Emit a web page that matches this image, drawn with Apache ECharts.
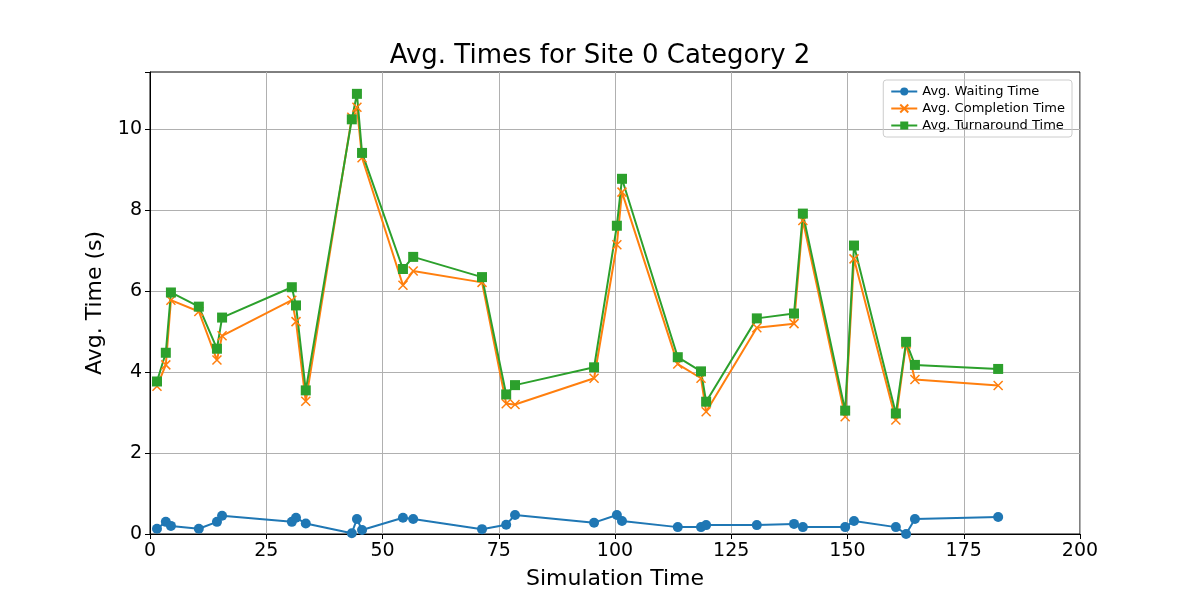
<!DOCTYPE html>
<html><head><meta charset="utf-8">
<script src="https://cdn.jsdelivr.net/npm/echarts@6/dist/echarts.min.js"></script>
<style>html,body{margin:0;padding:0;background:#fff}#c{width:1200px;height:600px}</style>
</head><body><div id="c"></div>
<script>
const simTime = [1.5,3.4,4.5,10.5,14.4,15.5,30.5,31.4,33.5,43.4,44.5,45.6,54.4,56.6,71.4,76.6,78.5,95.5,100.4,101.5,113.5,118.5,119.6,130.5,138.5,140.4,149.5,151.4,160.4,162.6,164.5,182.4];
const waiting = [0.13,0.3,0.2,0.13,0.3,0.45,0.3,0.4,0.26,0.02,0.37,0.1,0.4,0.37,0.12,0.23,0.47,0.28,0.47,0.32,0.17,0.17,0.22,0.22,0.25,0.17,0.17,0.32,0.17,0.0,0.37,0.42];
const completion = [3.65,4.18,5.78,5.5,4.3,4.9,5.78,5.25,3.28,10.3,10.55,9.3,6.15,6.5,6.22,3.22,3.2,3.85,7.15,8.45,4.2,3.85,3.02,5.1,5.2,7.75,2.9,6.8,2.82,4.7,3.82,3.67];
const turnaround = [3.77,4.48,5.97,5.62,4.58,5.35,6.1,5.65,3.55,10.25,10.88,9.42,6.55,6.85,6.35,3.45,3.68,4.12,7.62,8.78,4.37,4.02,3.27,5.33,5.45,7.92,3.05,7.13,2.98,4.75,4.18,4.08];
const pairs = ys => simTime.map((x,i)=>[x,ys[i]]);
const xSvg = 'path://M0,0L10,10M10,0L0,10';
const chart = echarts.init(document.getElementById('c'));
const lbl = {color:'#000',fontSize:19,fontFamily:'DejaVu Sans'};
const ax = {axisLine:{show:true,onZero:false,lineStyle:{color:'#000',width:1}},axisTick:{show:true,length:5,lineStyle:{color:'#000'}},
  splitLine:{show:true,lineStyle:{color:'#b0b0b0',width:1}},
  nameLocation:'middle',nameTextStyle:{color:'#000',fontSize:22,fontFamily:'DejaVu Sans'}};
chart.setOption({
  animation:false,
  title:{text:'Avg. Times for Site 0 Category 2',left:'center',top:38,textStyle:{fontSize:26,fontWeight:'normal',color:'#000',fontFamily:'DejaVu Sans'}},
  grid:{left:150,right:120,top:72,bottom:66,show:true,borderColor:'#000',borderWidth:1},
  legend:{right:128,top:80,orient:'vertical',itemGap:4,itemWidth:26,itemHeight:10,borderColor:'#ccc',borderWidth:1,borderRadius:3,padding:[5,7],
    textStyle:{fontSize:13,fontFamily:'DejaVu Sans',color:'#000'},
    data:['Avg. Waiting Time','Avg. Completion Time','Avg. Turnaround Time']},
  xAxis:Object.assign({type:'value',min:0,max:200,interval:25,name:'Simulation Time',nameGap:34,axisLabel:lbl},ax),
  yAxis:Object.assign({type:'value',min:0,max:11.42,interval:2,name:'Avg. Time (s)',nameGap:44,
    axisLabel:Object.assign({},lbl,{formatter:v=>(Math.abs(v%2)<1e-9?String(v):'')})},ax,
    {splitLine:{show:true,showMaxLine:false,lineStyle:{color:'#b0b0b0',width:1}}}),
  series:[
    {name:'Avg. Waiting Time',type:'line',data:pairs(waiting),symbol:'circle',symbolSize:10,itemStyle:{color:'#1f77b4'},lineStyle:{width:2}},
    {name:'Avg. Completion Time',type:'line',data:pairs(completion),symbol:xSvg,symbolSize:9,itemStyle:{color:'#ff7f0e',borderColor:'#ff7f0e',borderWidth:1.5},lineStyle:{width:2,color:'#ff7f0e'}},
    {name:'Avg. Turnaround Time',type:'line',data:pairs(turnaround),symbol:'rect',symbolSize:10,itemStyle:{color:'#2ca02c'},lineStyle:{width:2}}
  ]
});
</script></body></html>
